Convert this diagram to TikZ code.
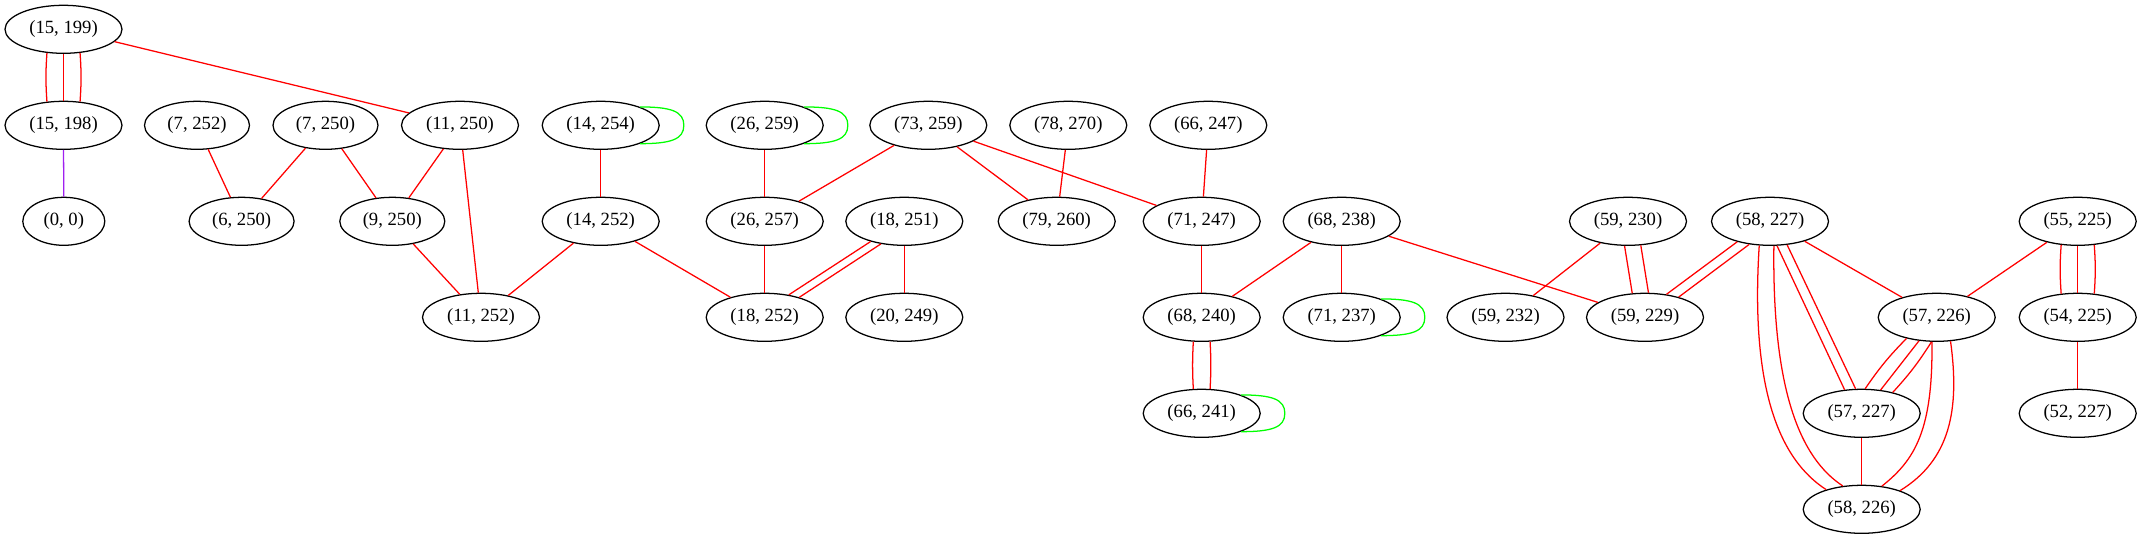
\documentclass[tikz,border=0pt]{standalone}
\usepackage{fontspec}
\setmainfont{Liberation Serif}
\usetikzlibrary{shapes.geometric,calc}
\definecolor{gvred}{RGB}{255,0,0}
\definecolor{gvgreen}{RGB}{0,255,0}
\definecolor{gvpurple}{RGB}{160,32,240}
\newcommand\mygloop[1]{\draw[gl] (#1.25) .. controls +(31,0) and +(0,14) .. ($(#1.east)+(24,0)$) .. controls +(0,-14) and +(31,0) .. (#1.-25);}
\begin{document}
\begin{tikzpicture}[x=0.75pt,y=0.75pt,
  nd/.style={draw=black,ellipse,inner sep=0pt,minimum width=87.75pt,minimum height=36pt,line width=0.95pt,font=\fontsize{14}{16}\selectfont},
  nf/.style={nd,minimum width=78.75pt},
  nt/.style={nd,minimum width=61.5pt},
  re/.style={draw=gvred,line width=0.95pt},
  gl/.style={draw=gvgreen,line width=0.95pt},
  pu/.style={draw=gvpurple,line width=0.95pt}]
\useasboundingbox (0,0) rectangle (2141,-539);
% row 1
\node[nd] (a1) at (63.5,-29.3) {(15, 199)};
% row 2
\node[nd] (b1) at (63.5,-125.3) {(15, 198)};
\node[nf] (b2) at (197,-125.3) {(7, 252)};
\node[nf] (b3) at (325.5,-125.3) {(7, 250)};
\node[nd] (b4) at (460,-125.3) {(11, 250)};
\node[nd] (b5) at (600.7,-125.3) {(14, 254)};
\node[nd] (b6) at (764.7,-125.3) {(26, 259)};
\node[nd] (b7) at (928.3,-125.3) {(73, 259)};
\node[nd] (b8) at (1068.3,-125.3) {(78, 270)};
\node[nd] (b9) at (1208.3,-125.3) {(66, 247)};
% row 3
\node[nt] (c1) at (63.8,-221.3) {(0, 0)};
\node[nf] (c2) at (241.6,-221.3) {(6, 250)};
\node[nf] (c3) at (392.3,-221.3) {(9, 250)};
\node[nd] (c4) at (600.7,-221.3) {(14, 252)};
\node[nd] (c5) at (764.7,-221.3) {(26, 257)};
\node[nd] (c6) at (904.3,-221.3) {(18, 251)};
\node[nd] (c7) at (1056.7,-221.3) {(79, 260)};
\node[nd] (c8) at (1201.7,-221.3) {(71, 247)};
\node[nd] (c9) at (1341.7,-221.3) {(68, 238)};
\node[nd] (c10) at (1628,-221.3) {(59, 230)};
\node[nd] (c11) at (1770,-221.3) {(58, 227)};
\node[nd] (c12) at (2077.7,-221.3) {(55, 225)};
% row 4
\node[nd] (d1) at (481,-317.3) {(11, 252)};
\node[nd] (d2) at (764.7,-317.3) {(18, 252)};
\node[nd] (d3) at (904.3,-317.3) {(20, 249)};
\node[nd] (d4) at (1201.7,-317.3) {(68, 240)};
\node[nd] (d5) at (1341.7,-317.3) {(71, 237)};
\node[nd] (d6) at (1505.5,-317.3) {(59, 232)};
\node[nd] (d7) at (1645,-317.3) {(59, 229)};
\node[nd] (d8) at (1936.7,-317.3) {(57, 226)};
\node[nd] (d9) at (2077.7,-317.3) {(54, 225)};
% row 5
\node[nd] (e1) at (1201.7,-413.3) {(66, 241)};
\node[nd] (e2) at (1861.7,-413.3) {(57, 227)};
\node[nd] (e3) at (2077.7,-413.3) {(52, 227)};
% row 6
\node[nd] (f1) at (1861.7,-509.3) {(58, 226)};
% edges
\draw[re] (a1.235) to[bend right=4] (b1.125);
\draw[re] (a1) -- (b1);
\draw[re] (a1.305) to[bend left=4] (b1.55);
\draw[re] (a1) -- (b4);
\draw[pu] (b1) -- (c1);
\draw[re] (b2) -- (c2);
\draw[re] (b3) -- (c2);
\draw[re] (b3) -- (c3);
\draw[re] (b4) -- (c3);
\draw[re] (b4) -- (d1);
\draw[re] (c3) -- (d1);
\mygloop{b5}
\draw[re] (b5) -- (c4);
\draw[re] (c4) -- (d1);
\draw[re] (c4) -- (d2);
\mygloop{b6}
\draw[re] (b6) -- (c5);
\draw[re] (b7) -- (c5);
\draw[re] (b7) -- (c7);
\draw[re] (b7) -- (c8);
\draw[re] (b8) -- (c7);
\draw[re] (b9) -- (c8);
\draw[re] (c5) -- (d2);
\draw[re] (c6.211) -- (d2.43);
\draw[re] (c6.224) -- (d2.30);
\draw[re] (c6) -- (d3);
\draw[re] (c8) -- (d4);
\draw[re] (c9) -- (d4);
\draw[re] (c9) -- (d5);
\draw[re] (c9) -- (d7);
\mygloop{d5}
\draw[re] (d4.251) to[bend right=3] (e1.109);
\draw[re] (d4.289) to[bend left=3] (e1.71);
\mygloop{e1}
\draw[re] (c10) -- (d6);
\draw[re] (c10.262) -- (d7.118);
\draw[re] (c10.298) -- (d7.82);
\draw[re] (c11.212) -- (d7.47);
\draw[re] (c11.228) -- (d7.31);
\draw[re] (c11.286) -- (e2.126);
\draw[re] (c11.306) -- (e2.104);
\draw[re] (c11.246) .. controls (1750,-390) and (1780,-460) .. (f1.151);
\draw[re] (c11.279) .. controls (1772,-390) and (1800,-458) .. (f1.129);
\draw[re] (c11) -- (d8);
\draw[re] (c12) -- (d8);
\draw[re] (c12.235) to[bend right=4] (d9.125);
\draw[re] (c12) -- (d9);
\draw[re] (c12.305) to[bend left=4] (d9.55);
\draw[re] (d9) -- (e3);
\draw[re] (d8.215) to[bend right=5] (e2.82);
\draw[re] (d8.233) -- (e2.51);
\draw[re] (d8.258) to[bend left=5] (e2.34);
\draw[re] (d8.259) .. controls (1933,-430) and (1915,-460) .. (f1.49);
\draw[re] (d8.300) .. controls (1960,-410) and (1950,-460) .. (f1.26);
\draw[re] (e2) -- (f1);
\end{tikzpicture}
\end{document}
